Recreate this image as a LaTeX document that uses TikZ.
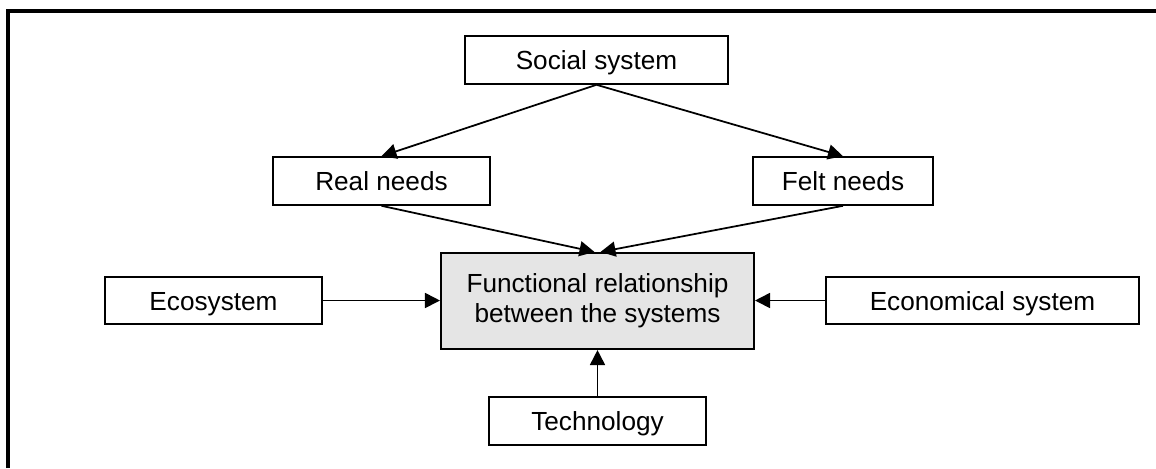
\documentclass[tikz,border=0pt]{standalone}
\usepackage{fontspec}
\setmainfont{Liberation Sans}
\usetikzlibrary{arrows.meta}

\begin{document}
\begin{tikzpicture}[x=0.02cm,y=-0.02cm,
    font=\fontsize{14.9pt}{17pt}\selectfont,
    plainbox/.style={draw,line width=1.2pt,inner sep=0pt,minimum height=0.95cm},
    sysbox/.style={plainbox,text height=1.2em,text depth=0.1em},
    arr/.style={-{Triangle[length=0.3cm,width=0.3cm]},line width=1pt}]
  \useasboundingbox (0,0) rectangle (1156,468);
  % frame, top and left only
  \draw[line width=0.08cm] (8,468) -- (8,11) -- (1156,11);

  \node[sysbox,minimum width=5.26cm] (social) at (596.5,60) {Social system};
  \node[sysbox,minimum width=4.34cm] (real) at (381.5,181) {Real needs};
  \node[sysbox,minimum width=3.6cm] (felt) at (843,181) {Felt needs};
  \node[plainbox,minimum width=6.26cm,minimum height=1.92cm,fill=gray!20,align=center]
    (func) at (597.5,301) {Functional relationship\\between the systems};
  \node[sysbox,minimum width=4.34cm] (eco) at (213.5,300.5) {Ecosystem};
  \node[sysbox,minimum width=6.26cm] (econ) at (982.5,300.5) {Economical system};
  \node[sysbox,minimum width=4.34cm] (tech) at (597.5,421) {Technology};

  \draw[arr] (social.south) -- (real.north);
  \draw[arr] (social.south) -- (felt.north);
  \draw[arr] (real.south) -- ([xshift=-0.06cm]func.north);
  \draw[arr] (felt.south) -- ([xshift=0.06cm]func.north);
  \draw[arr] (eco.east) -- (eco.east -| func.west);
  \draw[arr] (econ.west) -- (econ.west -| func.east);
  \draw[arr] (tech.north) -- (func.south);
\end{tikzpicture}
\end{document}
